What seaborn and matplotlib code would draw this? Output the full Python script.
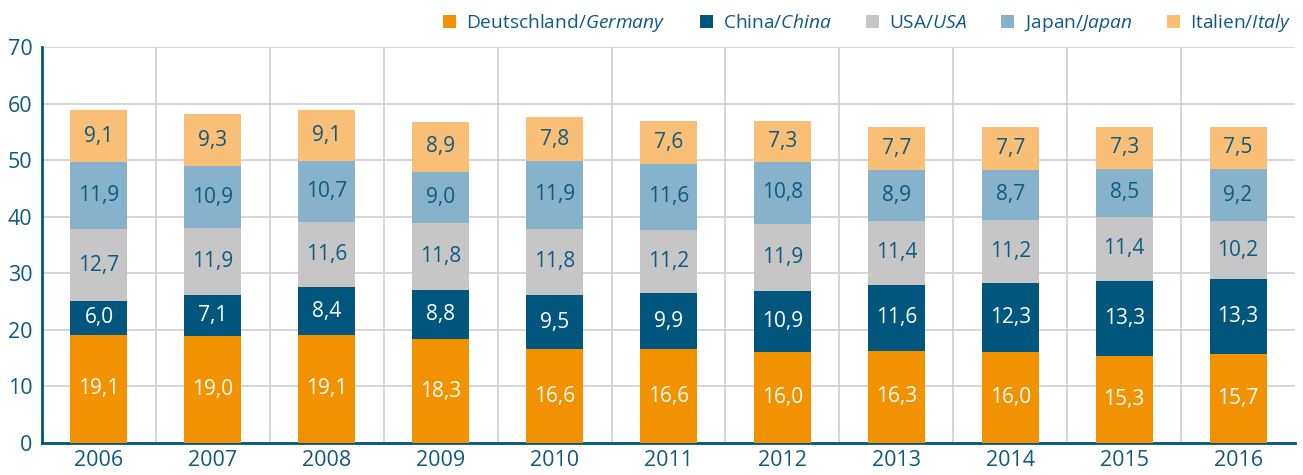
import matplotlib
matplotlib.use("Agg")
import matplotlib.pyplot as plt
import seaborn as sns
import pandas as pd
import numpy as np
from matplotlib.patches import Patch
from matplotlib.ticker import MultipleLocator, FixedLocator

years = ["2006", "2007", "2008", "2009", "2010", "2011", "2012", "2013", "2014", "2015", "2016"]
germany = [19.1, 19.0, 19.1, 18.3, 16.6, 16.6, 16.0, 16.3, 16.0, 15.3, 15.7]
china = [6.0, 7.1, 8.4, 8.8, 9.5, 9.9, 10.9, 11.6, 12.3, 13.3, 13.3]
usa = [12.7, 11.9, 11.6, 11.8, 11.8, 11.2, 11.9, 11.4, 11.2, 11.4, 10.2]
japan = [11.9, 10.9, 10.7, 9.0, 11.9, 11.6, 10.8, 8.9, 8.7, 8.5, 9.2]
italy = [9.1, 9.3, 9.1, 8.9, 7.8, 7.6, 7.3, 7.7, 7.7, 7.3, 7.5]
series_de = ["Deutschland", "China", "USA", "Japan", "Italien"]
series_en = ["Germany", "China", "USA", "Japan", "Italy"]

colors = ["#F39200", "#00567C", "#C6C6C6", "#87B2CC", "#F9BF76"]
label_colors = ["white", "white", "#0F5A82", "#0F5A82", "#0F5A82"]
text_blue = "#0F5A82"

sns.set_style("white")
plt.rcParams["font.family"] = ["Open Sans", "DejaVu Sans"]
plt.rcParams["mathtext.fontset"] = "custom"
plt.rcParams["mathtext.it"] = "Open Sans:italic"
plt.rcParams["mathtext.rm"] = "Open Sans"

values = [germany, china, usa, japan, italy]
cum = np.cumsum(np.array(values), axis=0)

fig = plt.figure(figsize=(13.03, 4.75), dpi=100)
ax = fig.add_axes([42/1303, 1 - 443/475, (1295 - 42)/1303, (443 - 47)/475])

# draw cumulative totals from top layer down so lower layers overlay
for i in range(len(values) - 1, -1, -1):
    df = pd.DataFrame({"year": years, "val": cum[i]})
    sns.barplot(data=df, x="year", y="val", color=colors[i], width=0.5,
                saturation=1, ax=ax, zorder=3, linewidth=0)

for i, vals in enumerate(values):
    for j, v in enumerate(vals):
        bottom = cum[i][j] - v
        ax.text(j, bottom + v / 2, f"{v:.1f}".replace(".", ","), ha="center", va="center",
                fontsize=15, color=label_colors[i], zorder=4)

ax.set_xlim(-0.5, 10.5)
ax.set_ylim(0, 70)
ax.yaxis.set_major_locator(MultipleLocator(10))
ax.xaxis.set_minor_locator(FixedLocator(np.arange(0.5, 10, 1)))
ax.grid(axis="y", which="major", color="#D0D0D0", linewidth=1.2, zorder=0)
ax.grid(axis="x", which="minor", color="#D0D0D0", linewidth=1.2, zorder=0)
ax.set_axisbelow(True)
ax.set_xlabel("")
ax.set_ylabel("")
for s in ["top", "right"]:
    ax.spines[s].set_visible(False)
for s in ["left", "bottom"]:
    ax.spines[s].set_color("#00567C")
    ax.spines[s].set_linewidth(2)
ax.tick_params(axis="both", which="both", length=0, labelsize=15.5, colors=text_blue)
ax.tick_params(axis="x", pad=5)
ax.tick_params(axis="y", pad=7)

handles = [Patch(facecolor=c, edgecolor="none") for c in colors]
labels = [f"{d}/$\\it{{{e}}}$" for d, e in zip(series_de, series_en)]
leg = fig.legend(handles, labels, ncol=5, loc="upper right", bbox_to_anchor=(1.0, 1.0),
                 frameon=False, fontsize=13.8, handlelength=0.7, handleheight=0.7,
                 handletextpad=0.5, columnspacing=1.8, borderaxespad=0.25)
for t in leg.get_texts():
    t.set_color(text_blue)

fig.savefig("out.png", dpi=100)
